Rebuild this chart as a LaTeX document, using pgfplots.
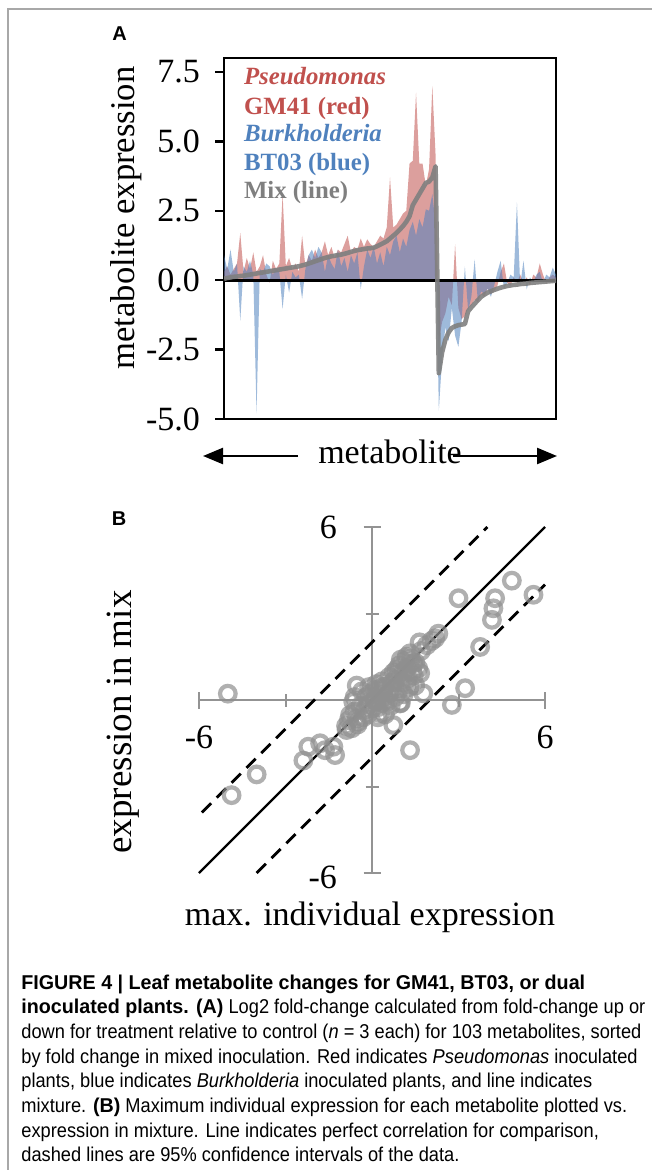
\documentclass[border=0pt]{standalone}
\usepackage{fontspec}
\setmainfont{Liberation Serif}
\newfontfamily\capfont[FakeStretch=0.912]{Liberation Sans}
\newfontfamily\capbf[FakeStretch=0.985]{Liberation Sans}
\newfontfamily\lblfont{Liberation Sans}
\newcommand\cb[1]{{\capbf\bfseries #1}}
\usepackage{pgfplots}
\pgfplotsset{compat=1.18}
\usepackage{pgfplotstable}
\usetikzlibrary{arrows.meta}

\definecolor{pred}{HTML}{C0504D}
\definecolor{bblue}{HTML}{4F81BD}
\definecolor{mixgray}{HTML}{7F7F7F}
\definecolor{axgray}{HTML}{939393}
\definecolor{ptgray}{HTML}{8F8F8F}
\definecolor{boxgray}{HTML}{A8A8A8}

% i, Pseudomonas GM41, Burkholderia BT03, mix (log2 fold change)
\pgfplotstableread{
i pse bur mix
1 0.3 0.9 0.05
2 0.5 0.4 0.08
3 0.2 1.1 0.10
4 0.4 0.3 0.12
5 0.6 0.6 0.13
6 1.7 -1.46 0.15
7 0.3 0.5 0.16
8 0.8 0.3 0.18
9 0.4 0.7 0.20
10 1.0 0.2 0.22
11 0.3 -4.8 0.24
12 0.5 0.4 0.26
13 0.9 0.3 0.28
14 0.2 0.6 0.30
15 -0.1 0.5 0.32
16 0.7 0.2 0.34
17 0.4 0.4 0.36
18 0.6 0.3 0.38
19 3.1 -1.04 0.40
20 0.5 0.2 0.42
21 0.8 -0.45 0.44
22 0.4 0.3 0.46
23 0.6 0.1 0.48
24 0.3 0.2 0.50
25 1.6 -0.68 0.53
26 0.5 0.4 0.56
27 0.9 0.9 0.60
28 0.7 1.1 0.64
29 1.1 0.8 0.68
30 0.8 1.2 0.72
31 1.0 1.0 0.76
32 1.4 0.3 0.80
33 0.9 0.9 0.83
34 1.2 0.6 0.86
35 0.8 0.4 0.88
36 1.1 1.1 0.90
37 1.0 0.5 0.92
38 1.3 0.8 0.95
39 1.6 0.3 0.98
40 1.0 0.9 1.02
41 1.2 0.6 1.05
42 1.1 1.0 1.08
43 1.5 -0.32 1.10
44 1.2 0.5 1.12
45 1.47 1.1 1.14
46 1.3 0.8 1.15
47 1.2 1.2 1.17
48 1.4 0.6 1.22
49 1.6 1.0 1.28
50 1.5 0.5 1.34
51 1.9 1.2 1.40
52 3.7 0.9 1.50
53 1.9 1.4 1.60
54 2.0 1.6 1.70
55 2.2 1.0 1.82
56 2.4 1.5 1.95
57 2.5 1.2 2.10
58 4.2 1.8 2.30
59 4.3 2.1 2.70
60 6.75 1.6 2.90
61 4.2 2.2 3.10
62 4.2 1.9 3.30
63 3.4 2.55 3.50
64 4.0 2.5 3.55
65 7.0 3.1 3.70
66 4.5 2.0 4.10
67 -2.2 -4.7 -3.35
68 -1.5 -2.8 -2.60
69 -1.2 -1.7 -2.15
70 -0.6 -2.2 -1.88
71 -0.9 -1.0 -1.72
72 1.3 -2.0 -1.66
73 -1.0 -2.4 -1.62
74 -1.4 -1.5 -1.60
75 -1.3 0.5 -1.58
76 -1.0 -1.1 -1.12
77 -0.9 -0.6 -0.98
78 -0.7 0.75 -0.85
79 -0.8 -0.8 -0.72
80 -0.5 -0.4 -0.60
81 -0.6 -0.5 -0.52
82 -0.3 -0.3 -0.45
83 -0.5 -0.6 -0.40
84 -0.4 -0.2 -0.35
85 -0.2 0.3 -0.31
86 0.3 0.7 -0.27
87 0.6 -0.3 -0.24
88 -0.1 -0.1 -0.21
89 -0.2 0.2 -0.19
90 0.1 0.1 -0.17
91 -0.1 2.8 -0.16
92 0.2 -0.2 -0.14
93 -0.1 0.7 -0.13
94 0.1 -0.33 -0.12
95 -0.2 0.1 -0.10
96 0.2 -0.1 -0.09
97 0.1 0.2 -0.08
98 0.6 0.3 -0.07
99 0.2 -0.1 -0.06
100 -0.1 0.2 -0.05
101 0.1 0.1 -0.04
102 0.2 0.45 -0.03
103 0.1 0.2 -0.02
}\metab

% max individual expression vs expression in mix
\pgfplotstableread{
x y
-5.0 0.22
-4.87 -3.3
-4.0 -2.58
-2.38 -2.1
-2.21 -1.62
-1.8 -1.5
-1.63 -1.74
-1.28 -1.91
-1.34 -1.62
-0.88 -1.04
-0.7 -0.98
-0.53 -0.64
-0.47 -0.75
-0.76 -0.52
-0.65 -0.06
-0.53 0.5
0.74 -0.87
1.32 -1.74
1.78 0.23
2.77 -0.17
3.23 0.41
3.75 1.84
2.07 2.05
2.19 2.14
3.0 3.53
4.27 3.53
4.21 3.18
4.16 2.78
4.85 4.14
5.6 3.65
1.43 1.27
1.67 0.93
1.2 1.5
1.32 1.62
0.28 -0.46
0.39 0.46
0.97 -0.12
0.05 0.1
0.15 -0.05
0.25 0.2
-0.1 -0.15
0.3 0.05
0.4 0.3
0.1 0.35
-0.2 0.1
0.5 0.15
0.2 -0.25
0.35 -0.1
0.0 -0.3
-0.25 -0.35
0.45 0.45
0.6 0.25
0.55 -0.05
0.1 0.0
0.28 0.4
-0.05 0.22
0.7 0.4
0.8 0.7
0.9 0.9
1.0 0.8
1.1 1.0
1.2 1.1
0.95 1.2
1.3 1.25
1.4 1.0
1.05 0.6
0.85 1.05
1.25 0.75
1.5 1.3
1.35 1.45
1.15 1.35
0.75 0.95
1.45 0.85
1.6 1.1
1.0 1.4
0.7 0.6
1.2 0.55
0.9 0.3
1.1 0.2
1.3 0.45
0.8 0.1
1.5 0.5
0.65 -0.2
1.0 -0.1
0.45 -0.5
0.2 -0.6
-0.4 -0.2
-0.6 -0.4
-0.3 -0.6
-0.8 -0.7
-0.5 -0.85
-0.15 -0.5
-0.9 -0.9
-0.35 0.3
-0.6 0.1
1.7 1.7
1.9 1.9
1.65 2.0
2.3 2.3
0.15 0.55
0.6 0.8
0.35 0.65
-0.1 0.45
}\scat

\begin{document}
\begin{tikzpicture}
\path[use as bounding box] (0,0) rectangle (326pt,-585pt);
% box border
\draw[boxgray, line width=0.6pt] (4pt,-585pt) -- (4pt,-4.5pt) -- (326pt,-4.5pt);

% ---------- panel A ----------
\node[font=\lblfont\bfseries\fontsize{10}{10}\selectfont] at (59.75pt,-16.75pt) {A};
\begin{axis}[
  at={(112pt,-209.5pt)}, anchor=south west,
  scale only axis, width=166pt, height=180.5pt,
  xmin=1, xmax=103, ymin=-5, ymax=8,
  xtick=\empty,
  ytick={-5,-2.5,0,2.5,5,7.5}, ytick pos=left,
  yticklabels={-5.0,-2.5,0.0,2.5,5.0,7.5},
  yticklabel style={font=\fontsize{17}{17}\selectfont, xshift=-4pt},
  tick align=outside, major tick length=4.5pt,
  tick style={black, line width=1.2pt},
  axis line style={black, line width=1.3pt},
]
\addplot[draw=none, fill=pred, fill opacity=0.55] table[x=i, y=pse] {\metab} \closedcycle;
\addplot[draw=none, fill=bblue, fill opacity=0.55] table[x=i, y=bur] {\metab} \closedcycle;
\addplot[black, line width=1.6pt] coordinates {(1,0) (103,0)};
\addplot[mixgray, line width=2.3pt, opacity=0.9, line join=round] table[x=i, y=mix] {\metab};
\end{axis}
\begin{scope}[font=\bfseries\fontsize{12.4}{12.4}\selectfont]
\node[anchor=base west, text=pred] at (118.5pt,-42.5pt) {\itshape Pseudomonas};
\node[anchor=base west, text=pred] at (118.5pt,-57.15pt) {GM41 (red)};
\node[anchor=base west, text=bblue] at (118.5pt,-70.85pt) {\itshape Burkholderia};
\node[anchor=base west, text=bblue] at (118.5pt,-85.35pt) {BT03 (blue)};
\node[anchor=base west, text=mixgray] at (118.5pt,-99.15pt) {Mix (line)};
\end{scope}
\node[rotate=90, font=\fontsize{17.3}{17.3}\selectfont] at (63pt,-109pt) {metabolite expression};
\node[anchor=base, font=\fontsize{17}{17}\selectfont] at (195pt,-231.5pt) {metabolite};
\draw[line width=1.2pt, -{Triangle[length=10pt, width=8pt]}] (149pt,-228pt) -- (101.5pt,-228pt);
\draw[line width=1.2pt, -{Triangle[length=10pt, width=8pt]}] (226.5pt,-228pt) -- (278.5pt,-228pt);

% ---------- panel B ----------
\node[font=\lblfont\bfseries\fontsize{10}{10}\selectfont] at (59.5pt,-259.5pt) {B};
\begin{axis}[
  at={(99.5pt,-436.5pt)}, anchor=south west,
  scale only axis, width=173pt, height=173pt,
  xmin=-6, xmax=6, ymin=-6, ymax=6,
  axis lines=middle,
  axis line style={-, axgray, line width=1pt},
  xtick={-6,6}, ytick={-6,6},
  minor xtick={-3,3}, minor ytick={-3,3},
  xticklabels={}, yticklabels={},
  tick align=center, major tick length=8.5pt, minor tick length=6.5pt,
  tick style={axgray, line width=1pt},
  clip=false,
]
\addplot[only marks, mark=o, mark size=3.9pt, line width=2.1pt, draw=ptgray, draw opacity=0.7] table[x=x, y=y] {\scat};
\addplot[black, line width=1.1pt] coordinates {(-6,-6) (6,6)};
\addplot[black, line width=1.4pt, dash pattern=on 6.5pt off 4pt] coordinates {(-5.9,-3.9) (4,6)};
\addplot[black, line width=1.4pt, dash pattern=on 6.5pt off 4pt] coordinates {(-4,-6) (6,4)};
\node[anchor=east, font=\fontsize{17}{17}\selectfont, xshift=-14pt] at (axis cs:0,6) {6};
\node[anchor=east, font=\fontsize{17}{17}\selectfont, xshift=-14pt, yshift=-2pt] at (axis cs:0,-6) {-6};
\node[font=\fontsize{17}{17}\selectfont, yshift=-18.5pt] at (axis cs:-6,0) {-6};
\node[font=\fontsize{17}{17}\selectfont, yshift=-18.5pt] at (axis cs:6,0) {6};
\end{axis}
\node[font=\fontsize{17}{17}\selectfont] at (185pt,-458.5pt) {max. individual expression};
\node[rotate=90, font=\fontsize{18.5}{18.5}\selectfont] at (61.5pt,-361pt) {expression in mix};

% ---------- caption ----------
\begin{scope}[font=\capfont\fontsize{10}{12}\selectfont, inner sep=0pt]
\node[anchor=base west] at (10.5pt,-494.5pt) {\cb{FIGURE 4 | Leaf metabolite changes for GM41, BT03, or dual}};
\node[anchor=base west] at (10.5pt,-506.85pt) {\cb{inoculated plants. (A)} Log2 fold-change calculated from fold-change up or};
\node[anchor=base west] at (10.5pt,-519.2pt) {down for treatment relative to control (\textit{n} = 3 each) for 103 metabolites, sorted};
\node[anchor=base west] at (10.5pt,-531.55pt) {by fold change in mixed inoculation. Red indicates \textit{Pseudomonas} inoculated};
\node[anchor=base west] at (10.5pt,-543.9pt) {plants, blue indicates \textit{Burkholderia} inoculated plants, and line indicates};
\node[anchor=base west] at (10.5pt,-556.25pt) {mixture. \cb{(B)} Maximum individual expression for each metabolite plotted vs.};
\node[anchor=base west] at (10.5pt,-568.6pt) {expression in mixture. Line indicates perfect correlation for comparison,};
\node[anchor=base west] at (10.5pt,-580.95pt) {dashed lines are 95\% confidence intervals of the data.};
\end{scope}
\end{tikzpicture}
\end{document}
